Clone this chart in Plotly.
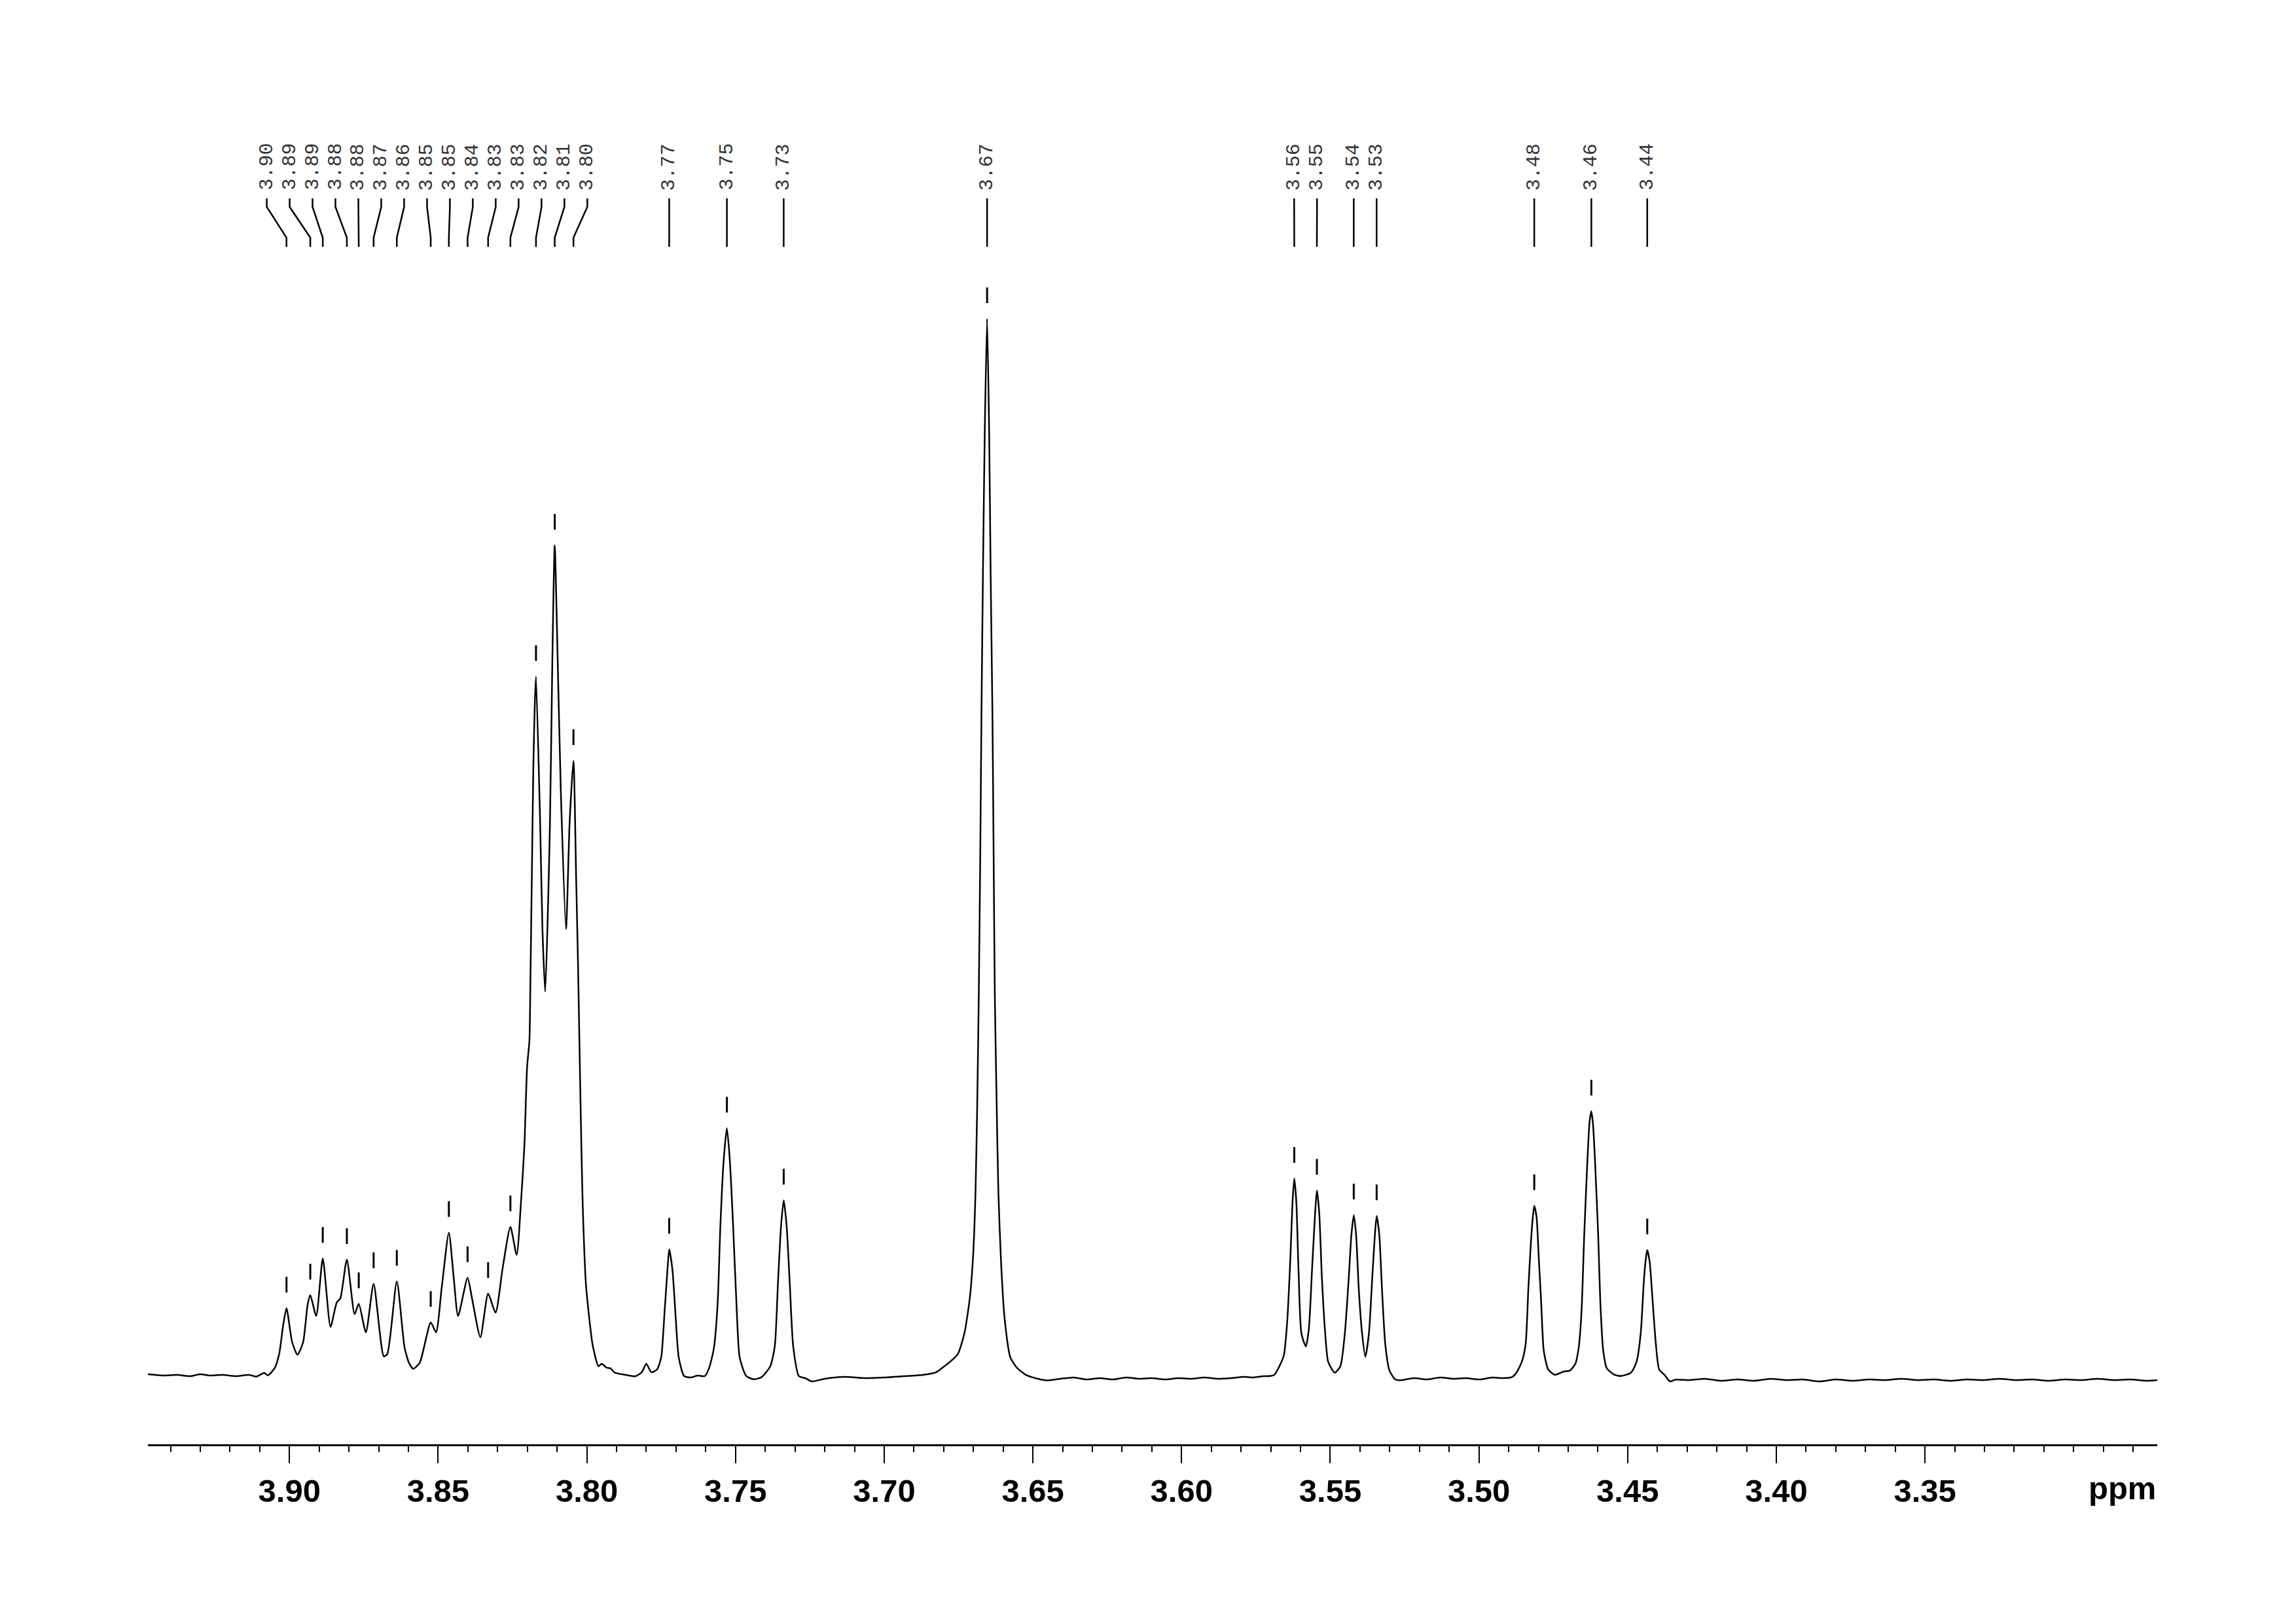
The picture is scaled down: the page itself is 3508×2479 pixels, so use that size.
import plotly.graph_objects as go

# ---------------- DATA ----------------
# picked peaks: chemical shift (ppm) and intensity (3.67 singlet = 100)
peak_ppm = [3.9010, 3.8930, 3.8888, 3.8807, 3.8767, 3.8717, 3.8639, 3.8525, 3.8464, 3.8401,
            3.8332, 3.8257, 3.8171, 3.8108, 3.8045, 3.7723, 3.7529, 3.7338, 3.6654,
            3.5621, 3.5545, 3.5421, 3.5344, 3.4814, 3.4622, 3.4434]
peak_int = [6.54, 7.77, 11.24, 11.13, 6.95, 8.84, 9.07, 5.19, 13.69, 9.42,
            7.92, 14.22, 66.20, 78.60, 58.26, 12.10, 23.54, 16.74, 100.0,
            18.80, 17.67, 15.34, 15.26, 16.22, 25.15, 12.04]
peak_labels = ["3.90", "3.89", "3.89", "3.88", "3.88", "3.87", "3.86", "3.85", "3.85", "3.84",
               "3.83", "3.83", "3.82", "3.81", "3.80", "3.77", "3.75", "3.73", "3.67",
               "3.56", "3.55", "3.54", "3.53", "3.48", "3.46", "3.44"]

# traced spectrum points between the peak maxima (ppm, intensity)
spec_ppm = [
    3.9476, 3.9422, 3.9378, 3.9334, 3.9301, 3.9268, 3.9224, 3.9180, 3.9136, 3.9112, 3.9085, 3.9073, 3.9050, 3.9034, 3.9022,
    3.8991, 3.8973, 3.8954, 3.8939, 3.8910, 3.8862, 3.8841, 3.8829, 3.8781, 3.8743, 3.8683, 3.8671,
    3.8613, 3.8598, 3.8584, 3.8562, 3.8507, 3.8488, 3.8448, 3.8433, 3.8386, 3.8358, 3.8307, 3.8283,
    3.8236, 3.8221, 3.8210, 3.8201, 3.8193, 3.8190, 3.8185, 3.8180, 3.8175,
    3.8157, 3.8149, 3.8140, 3.8124, 3.8116, 3.8098, 3.8087, 3.8070, 3.8058,
    3.8036, 3.8030, 3.8025, 3.8020, 3.8014, 3.8003, 3.7988, 3.7981, 3.7961, 3.7950, 3.7934, 3.7921, 3.7906,
    3.7870, 3.7837, 3.7815, 3.7800, 3.7783, 3.7764, 3.7750, 3.7739, 3.7729,
    3.7712, 3.7702, 3.7691, 3.7673, 3.7650, 3.7628, 3.7603, 3.7588, 3.7573, 3.7560, 3.7551, 3.7540,
    3.7519, 3.7508, 3.7497, 3.7486, 3.7464, 3.7438, 3.7412, 3.7383, 3.7368, 3.7357, 3.7347,
    3.7328, 3.7318, 3.7306, 3.7287, 3.7266, 3.7243, 3.7200, 3.7134, 3.7068, 3.7002, 3.6936, 3.6870, 3.6826,
    3.6804, 3.6775, 3.6752, 3.6730, 3.6712, 3.6701, 3.6693, 3.6687, 3.6682, 3.6677, 3.6673, 3.6668, 3.6662,
    3.6647, 3.6642, 3.6636, 3.6632, 3.6628, 3.6622, 3.6616, 3.6607, 3.6595, 3.6576, 3.6554, 3.6524, 3.6488, 3.6451,
    3.6407, 3.6363, 3.6319, 3.6275, 3.6231, 3.6187, 3.6143, 3.6099, 3.6055, 3.6011, 3.5967, 3.5923, 3.5879, 3.5835, 3.5791, 3.5758, 3.5725,
    3.5703, 3.5688, 3.5671, 3.5656, 3.5645, 3.5634, 3.5627,
    3.5614, 3.5607, 3.5597, 3.5582, 3.5572, 3.5561, 3.5551,
    3.5537, 3.5528, 3.5517, 3.5507, 3.5485, 3.5466, 3.5451, 3.5438, 3.5429,
    3.5413, 3.5404, 3.5393, 3.5382, 3.5370, 3.5359, 3.5350,
    3.5335, 3.5326, 3.5315, 3.5301, 3.5282, 3.5267,
    3.5219, 3.5175, 3.5131, 3.5087, 3.5043, 3.4999, 3.4955, 3.4922,
    3.4889, 3.4874, 3.4856, 3.4843, 3.4834, 3.4826, 3.4819,
    3.4806, 3.4799, 3.4791, 3.4782, 3.4767, 3.4745, 3.4716, 3.4694, 3.4676, 3.4665, 3.4655, 3.4646, 3.4635, 3.4628,
    3.4616, 3.4609, 3.4599, 3.4592, 3.4582, 3.4570, 3.4544, 3.4522, 3.4489, 3.4470, 3.4456, 3.4445, 3.4438,
    3.4426, 3.4416, 3.4405, 3.4394, 3.4376, 3.4358, 3.4339,
    3.4295, 3.4240, 3.4185, 3.4130, 3.4075, 3.4020, 3.3965, 3.3910, 3.3855, 3.3800, 3.3744, 3.3689, 3.3634, 3.3579, 3.3524,
    3.3469, 3.3414, 3.3359, 3.3304, 3.3249, 3.3194, 3.3139, 3.3084, 3.3029, 3.2974, 3.2919, 3.2864, 3.2809, 3.2754, 3.2719,
]
spec_int = [
    0.31, 0.19, 0.25, 0.12, 0.31, 0.19, 0.25, 0.12, 0.25, 0.08, 0.43, 0.20, 0.87, 2.31, 4.78,
    3.34, 2.15, 3.34, 6.86, 5.81, 4.78, 7.09, 7.46, 5.98, 4.27, 2.00, 2.21,
    2.83, 1.38, 0.82, 1.38, 4.27, 8.49, 9.52, 5.81, 7.46, 3.79, 6.12, 10.35,
    11.58, 16.76, 21.89, 29.28, 31.85, 36.98, 47.22, 57.48, 63.64,
    52.35, 42.10, 36.45, 52.35, 67.73, 67.73, 54.92, 42.36, 52.35,
    47.22, 39.53, 31.85, 24.15, 16.45, 8.78, 4.66, 3.15, 1.07, 1.30, 0.93, 0.87, 0.45,
    0.25, 0.12, 0.50, 1.30, 0.49, 0.76, 1.90, 6.02, 10.14,
    10.14, 6.02, 1.90, 0.14, 0.00, 0.19, 0.14, 0.97, 2.72, 7.05, 14.27, 20.45,
    20.45, 14.27, 7.05, 1.90, 0.14, -0.17, 0.04, 1.07, 2.93, 9.11, 14.27,
    14.27, 9.11, 2.93, 0.14, -0.06, -0.37, -0.12, 0.06, -0.06, 0.00, 0.12, 0.25, 0.49,
    0.93, 1.57, 2.23, 4.22, 7.54, 11.50, 17.47, 26.10, 36.05, 49.29, 62.52, 75.78, 89.05,
    89.05, 75.78, 62.52, 49.29, 36.05, 26.10, 17.47, 10.85, 5.55, 1.92, 0.93, 0.25, -0.09, -0.28,
    -0.12, 0.00, -0.19, -0.06, -0.19, 0.00, -0.12, -0.06, -0.19, -0.06, -0.12, 0.00, -0.12, -0.06, 0.06, 0.00, 0.12,
    0.14, 0.25, 1.07, 2.10, 5.19, 11.38, 16.53,
    16.53, 10.35, 4.16, 2.93, 4.58, 10.35, 15.50,
    15.50, 9.32, 4.16, 1.48, 0.45, 1.07, 4.16, 9.32, 13.44,
    13.44, 8.29, 4.16, 1.94, 4.16, 9.32, 13.44,
    13.44, 8.29, 3.14, 0.66, -0.17, -0.27,
    -0.06, -0.19, 0.00, -0.12, -0.06, -0.19, 0.00, -0.06,
    0.04, 0.45, 1.48, 3.14, 8.29, 12.41, 15.09,
    15.09, 11.38, 7.25, 2.52, 0.76, 0.25, 0.56, 0.66, 1.28, 2.72, 6.23, 13.44, 20.66, 24.16,
    23.75, 20.04, 13.44, 7.25, 2.52, 0.87, 0.25, 0.14, 0.45, 1.48, 4.16, 9.32, 11.38,
    10.96, 7.25, 3.14, 0.76, 0.25, -0.37, -0.20,
    -0.25, -0.12, -0.31, -0.19, -0.31, -0.12, -0.25, -0.19, -0.37, -0.19, -0.31, -0.19, -0.25, -0.12, -0.25,
    -0.19, -0.31, -0.19, -0.25, -0.12, -0.25, -0.19, -0.31, -0.19, -0.25, -0.12, -0.25, -0.19, -0.31, -0.25,
]

# axis ticks
major_ticks = [3.90, 3.85, 3.80, 3.75, 3.70, 3.65, 3.60, 3.55, 3.50, 3.45, 3.40, 3.35, 3.30]
major_text = ["3.90", "3.85", "3.80", "3.75", "3.70", "3.65", "3.60", "3.55", "3.50", "3.45", "3.40", "3.35", ""]
minor_ticks = [round(3.94 - 0.01 * i, 2) for i in range(67)]
x_range = [3.9476, 3.2719]

# ---------------- LAYOUT GEOMETRY ----------------
W, H = 3508, 2479
M_L, M_R, M_T, M_B = 226, 212, 150, 273
BASE_PX = 2104.0          # pixel row of zero intensity
PX_PER_UNIT = 16.17       # pixels per intensity unit


def y_at(py):
    return (BASE_PX - py) / PX_PER_UNIT


y_range = [y_at(H - M_B), y_at(M_T)]
LABEL_SEP = 0.0077        # minimal spacing of peak labels (ppm)

# spread label positions so that they don't overlap
order = sorted(range(len(peak_ppm)), key=lambda i: -peak_ppm[i])
groups = [[i] for i in order]


def positions(g):
    c = sum(peak_ppm[i] for i in g) / len(g)
    n = len(g)
    return [c + LABEL_SEP * ((n - 1) / 2 - k) for k in range(n)]


changed = True
while changed:
    changed = False
    for k in range(len(groups) - 1):
        a, b = positions(groups[k]), positions(groups[k + 1])
        if a[-1] - b[0] < LABEL_SEP - 1e-9:
            groups[k] = groups[k] + groups[k + 1]
            del groups[k + 1]
            changed = True
            break
label_pos = {}
for g in groups:
    for i, p in zip(g, positions(g)):
        label_pos[i] = p

# ---------------- FIGURE ----------------
fig = go.Figure()

# spectrum
pts = sorted(list(zip(spec_ppm, spec_int)) + list(zip(peak_ppm, peak_int)), key=lambda t: -t[0])
fig.add_trace(go.Scatter(x=[p for p, _ in pts], y=[v for _, v in pts], mode="lines",
                         line=dict(color="black", width=2.5, shape="spline", smoothing=0.6),
                         hoverinfo="skip"))

# peak-pick markers above each maximum
mx, my = [], []
for p, h in zip(peak_ppm, peak_int):
    mx += [p, p, None]
    my += [h + 24 / PX_PER_UNIT, h + 48 / PX_PER_UNIT, None]
fig.add_trace(go.Scatter(x=mx, y=my, mode="lines", line=dict(color="black", width=3), hoverinfo="skip"))

# label leaders
lx, ly = [], []
for i, p in enumerate(peak_ppm):
    q = label_pos[i]
    lx += [q, q, p, p, None]
    ly += [y_at(303), y_at(316), y_at(363), y_at(377), None]
fig.add_trace(go.Scatter(x=lx, y=ly, mode="lines", line=dict(color="black", width=2.5), hoverinfo="skip"))

for i, t in enumerate(peak_labels):
    fig.add_annotation(x=label_pos[i], y=y_at(293), xref="x", yref="y", text=t, showarrow=False,
                       textangle=-90, xanchor="center", yanchor="bottom",
                       font=dict(family="Liberation Mono", size=30, color="#333333"))

plot_h = H - M_T - M_B
fig.add_annotation(x=1, y=-(2273 - (H - M_B)) / plot_h, xref="paper", yref="paper", text="ppm",
                   showarrow=False, xanchor="right", yanchor="middle",
                   font=dict(family="Liberation Sans", size=49, color="black", weight="bold"))

fig.update_layout(
    width=W, height=H, margin=dict(l=M_L, r=M_R, t=M_T, b=M_B, pad=0),
    paper_bgcolor="white", plot_bgcolor="white", showlegend=False,
    xaxis=dict(range=x_range, showgrid=False, zeroline=False, showline=True, linecolor="black", linewidth=3,
               ticks="outside", tickmode="array", tickvals=major_ticks, ticktext=major_text,
               ticklen=26, tickwidth=2, tickcolor="black",
               tickfont=dict(family="Liberation Sans", size=49, color="black", weight="bold"),
               minor=dict(tickmode="array", tickvals=minor_ticks, ticks="outside", ticklen=9, tickwidth=2,
                          tickcolor="black", showgrid=False)),
    yaxis=dict(range=y_range, visible=False, showgrid=False, zeroline=False),
)

fig.write_html("out.html", config={"displayModeBar": False},
               post_script="document.body.style.margin='0px';")
